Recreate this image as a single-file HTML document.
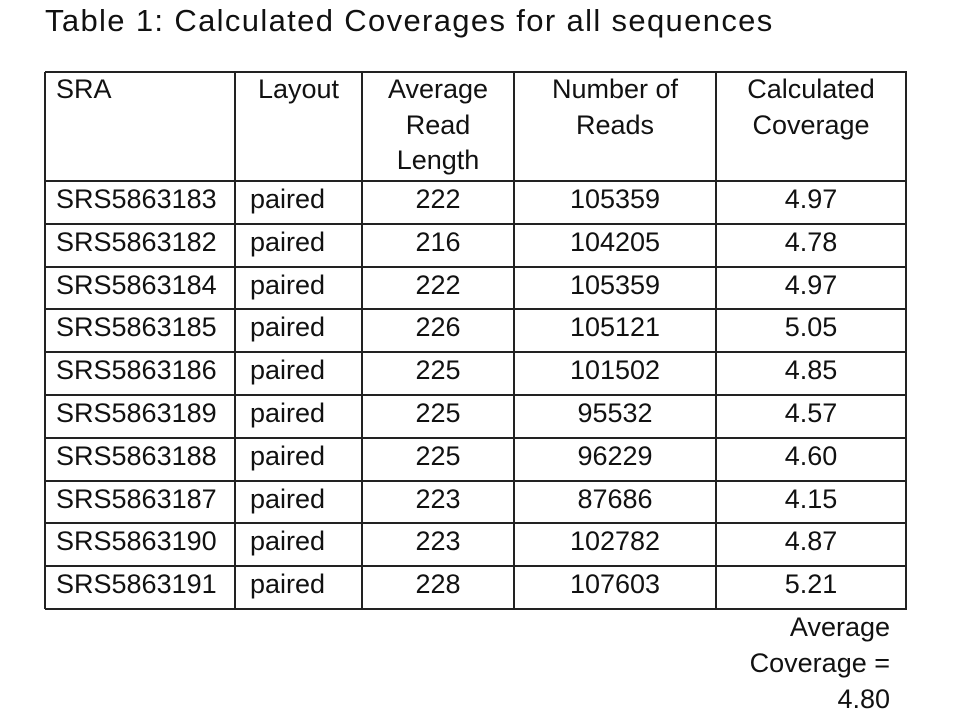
<!DOCTYPE html>
<html><head><meta charset="utf-8"><style>
body{margin:0;width:960px;height:720px;background:#fff;position:relative;overflow:hidden;font-family:"Liberation Sans",sans-serif;color:#111}
.t{position:absolute;font-size:27px;line-height:36px;white-space:nowrap}
.h{position:absolute;background:#222}
.v{position:absolute;background:#222;width:2px}
</style></head><body>
<div class="t" style="left:45px;top:3px;font-size:31px;letter-spacing:1.35px">Table 1: Calculated Coverages for all sequences</div>
<div id="tbl"></div>
<div class="t" style="right:70px;top:609px;text-align:right">Average<br>Coverage =<br>4.80</div>
<script>
const sra=["SRS5863183","SRS5863182","SRS5863184","SRS5863185","SRS5863186","SRS5863189","SRS5863188","SRS5863187","SRS5863190","SRS5863191"];
const layout=["paired","paired","paired","paired","paired","paired","paired","paired","paired","paired"];
const readLen=["222","216","222","226","225","225","225","223","223","228"];
const numReads=["105359","104205","105359","105121","101502","95532","96229","87686","102782","107603"];
const coverage=["4.97","4.78","4.97","5.05","4.85","4.57","4.60","4.15","4.87","5.21"];
const headers=["SRA","Layout","Average<br>Read<br>Length","Number of<br>Reads","Calculated<br>Coverage"];
const colX=[45,235,362,514,716,906];
const top0=72, headBottom=181, rowH=42.8;
const tbl=document.getElementById('tbl');
function add(cls,style,html,name){const d=document.createElement('div');d.className=cls;d.setAttribute('style',style);if(html)d.innerHTML=html;


tbl.appendChild(d);return d;}
add('h',`left:${colX[0]}px;top:${top0-1}px;width:${colX[5]-colX[0]+1}px;height:2px`,'','table-top-border');
for(let i=0;i<=sra.length;i++){const y=headBottom+i*rowH;add('h',`left:${colX[0]}px;top:${Math.round(y-1)}px;width:${colX[5]-colX[0]+1}px;height:2px`,'','row-line');}
const bottom=headBottom+sra.length*rowH;
colX.forEach(x=>add('v',`left:${x-1}px;top:${top0}px;height:${bottom-top0}px`,'','column-line'));
headers.forEach((h,j)=>{const align=j===0?'left':'center';const pad=j===0?'padding-left:11px;':'';
add('t',`left:${colX[j]}px;width:${colX[j+1]-colX[j]-(j===0?11:0)}px;top:${top0}px;text-align:${align};${pad}line-height:35.5px`,h,'header-cell');});
const cols=[sra,layout,readLen,numReads,coverage];
for(let i=0;i<sra.length;i++){const y=headBottom+i*rowH;
cols.forEach((c,j)=>{let st=`top:${y}px;`;
if(j===0)st+=`left:${colX[0]+11}px;`;
else if(j===1)st+=`left:${colX[1]+15}px;`;
else st+=`left:${colX[j]}px;width:${colX[j+1]-colX[j]}px;text-align:center;`;
add('t',st,c[i],'table-cell');});}
</script>
</body></html>
